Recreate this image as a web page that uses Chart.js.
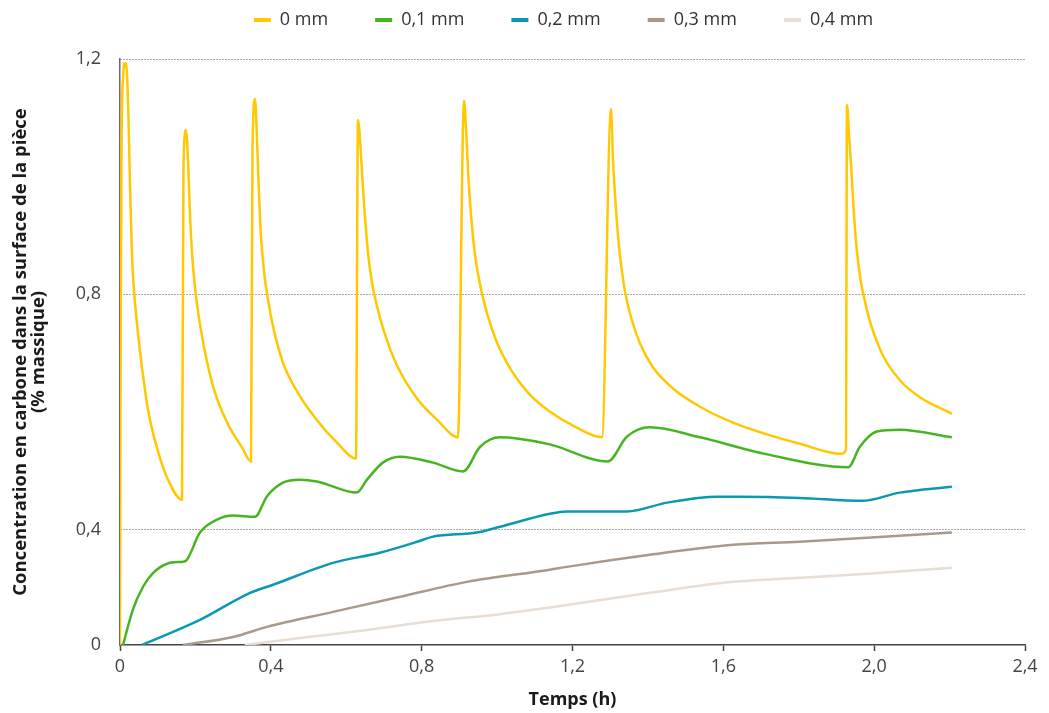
<!DOCTYPE html>
<html>
<head>
<meta charset="utf-8">
<script src="https://cdn.jsdelivr.net/npm/chart.js@4.4.1/dist/chart.umd.min.js"></script>
<style>
html,body{margin:0;padding:0;background:#fff;}
#wrap{width:1049px;height:713px;position:relative;}
</style>
</head>
<body>
<div id="wrap"><canvas id="c" width="1049" height="713"></canvas></div>
<script>
// ---------- DATA ----------
const seriesLabels = ['0 mm', '0,1 mm', '0,2 mm', '0,3 mm', '0,4 mm'];

// 0 mm
const time0 = [0, 0.0013, 0.004, 0.008, 0.0133, 0.0186, 0.0225, 0.0265, 0.0305, 0.0345, 0.0398, 0.0477, 0.0583, 0.0743, 0.1008, 0.1273, 0.1644,
  0.1684, 0.175, 0.1803, 0.1856, 0.1909, 0.1989, 0.2121, 0.2307, 0.2519, 0.2864, 0.3235, 0.3474,
  0.3514, 0.358, 0.3633, 0.3686, 0.3739, 0.3819, 0.3925, 0.4057, 0.4322, 0.4694, 0.5224, 0.5755, 0.6258,
  0.6311, 0.6364, 0.6417, 0.6497, 0.6576, 0.6683, 0.6815, 0.7001, 0.7346, 0.7876, 0.8406, 0.8963,
  0.9122, 0.9175, 0.9228, 0.9308, 0.9414, 0.9547, 0.9732, 0.9997, 1.0395, 1.0819, 1.1350, 1.2066, 1.2782,
  1.302, 1.3073, 1.3153, 1.3233, 1.3312, 1.3392, 1.3551, 1.3789, 1.4134, 1.4665, 1.5381, 1.6256, 1.7157, 1.8032, 1.9119, 1.9252,
  1.9279, 1.9332, 1.9385, 1.9464, 1.9544, 1.9624, 1.9730, 1.9889, 2.0233, 2.0684, 2.1214, 2.2063];
const conc0 = [0, 0.621, 1.047, 1.166, 1.193, 1.174, 1.098, 0.987, 0.894, 0.831, 0.786, 0.734, 0.676, 0.604, 0.533, 0.485, 0.451,
  1.02, 1.079, 1.030, 0.936, 0.871, 0.812, 0.749, 0.686, 0.633, 0.579, 0.540, 0.516,
  1.047, 1.132, 1.064, 0.970, 0.899, 0.839, 0.791, 0.746, 0.684, 0.635, 0.586, 0.548, 0.521,
  1.096, 1.064, 1.009, 0.931, 0.871, 0.820, 0.780, 0.737, 0.679, 0.623, 0.587, 0.557,
  1.129, 1.084, 1.013, 0.936, 0.868, 0.817, 0.768, 0.718, 0.669, 0.633, 0.603, 0.575, 0.557,
  1.115, 1.030, 0.945, 0.882, 0.839, 0.805, 0.761, 0.717, 0.676, 0.640, 0.609, 0.582, 0.562, 0.546, 0.529, 0.536,
  1.122, 1.072, 1.021, 0.936, 0.873, 0.831, 0.795, 0.754, 0.696, 0.654, 0.625, 0.597];

// 0,1 mm
const time1 = [0.008, 0.034, 0.061, 0.088, 0.125, 0.167, 0.175, 0.212, 0.257, 0.300, 0.358, 0.390, 0.432,
  0.477, 0.522, 0.628, 0.655, 0.697, 0.742, 0.830, 0.910, 0.955, 1.008, 1.053, 1.140, 1.294,
  1.344, 1.405, 1.538, 1.716, 1.931, 1.962, 2.007, 2.068, 2.206];
const conc1 = [0, 0.122, 0.202, 0.25, 0.282, 0.289, 0.292, 0.39, 0.417, 0.424, 0.422, 0.457, 0.48,
  0.485, 0.482, 0.463, 0.485, 0.514, 0.524, 0.514, 0.499, 0.541, 0.557, 0.555, 0.545, 0.516,
  0.558, 0.574, 0.557, 0.528, 0.506, 0.541, 0.567, 0.57, 0.557];

// 0,2 mm
const time2 = [0.058, 0.212, 0.345, 0.406, 0.565, 0.689, 0.788, 0.830, 0.947, 1.008, 1.140, 1.185,
  1.344, 1.451, 1.583, 1.644, 1.803, 1.968, 2.068, 2.206];
const conc2 = [0, 0.087, 0.181, 0.209, 0.285, 0.32, 0.358, 0.376, 0.39, 0.405, 0.427, 0.431,
  0.431, 0.446, 0.456, 0.456, 0.454, 0.449, 0.463, 0.473];

// 0,3 mm
const time3 = [0.167, 0.300, 0.390, 0.565, 0.742, 0.920, 1.140, 1.185, 1.405, 1.626, 1.803, 1.981, 2.206];
const conc3 = [0, 0.028, 0.063, 0.115, 0.167, 0.219, 0.261, 0.271, 0.313, 0.348, 0.358, 0.372, 0.39];

// 0,4 mm
const time4 = [0.331, 0.477, 0.655, 0.830, 1.008, 1.140, 1.405, 1.626, 1.803, 1.981, 2.206];
const conc4 = [0, 0.024, 0.052, 0.083, 0.107, 0.130, 0.181, 0.219, 0.233, 0.247, 0.268];

const xTicks = [0, 0.4, 0.8, 1.2, 1.6, 2.0, 2.4];
const xTickLabels = ['0', '0,4', '0,8', '1,2', '1,6', '2,0', '2,4'];
const yTicks = [0, 0.4, 0.8, 1.2];
const yTickLabels = ['0', '0,4', '0,8', '1,2'];

const yTitle = ['Concentration en carbone dans la surface de la pièce', '(% massique)'];
const xTitle = 'Temps (h)';

// ---------- STYLE ----------
const colors = ['#FFC800', '#47B522', '#0B98B2', '#A89A8B', '#E6DDD4'];
const FONT = "'Open Sans', 'DejaVu Sans', sans-serif";

// ---------- broken (piecewise linear) value axis ----------
const BREAK = 0.4, LOW_FACTOR = 0.49;
class BrokenLinearScale extends Chart.LinearScale {
  _fwd(v) { return v <= BREAK ? v * LOW_FACTOR : BREAK * LOW_FACTOR + (v - BREAK); }
  _inv(t) { const b = BREAK * LOW_FACTOR; return t <= b ? t / LOW_FACTOR : BREAK + (t - b); }
  getPixelForValue(value) {
    const a = this._fwd(this.min), b = this._fwd(this.max);
    return this.getPixelForDecimal((this._fwd(value) - a) / (b - a));
  }
  getValueForPixel(pixel) {
    const a = this._fwd(this.min), b = this._fwd(this.max);
    return this._inv(a + this.getDecimalForPixel(pixel) * (b - a));
  }
}
BrokenLinearScale.id = 'brokenLinear';
BrokenLinearScale.defaults = Chart.LinearScale.defaults;
Chart.register(BrokenLinearScale);

const legendSpacer = {
  id: 'legendSpacer',
  beforeUpdate(chart) {
    const lg = chart.legend;
    if (lg && !lg._spacerPatched) {
      const f = lg.fit;
      lg.fit = function () { f.call(this); this.height += 20; };
      lg._spacerPatched = true;
    }
  }
};

const times = [time0, time1, time2, time3, time4];
const concs = [conc0, conc1, conc2, conc3, conc4];
const LEGEND_GAP = '\u2003\u2003';

new Chart(document.getElementById('c'), {
  type: 'line',
  data: {
    datasets: seriesLabels.map((lab, i) => ({
      label: lab,
      data: times[i].map((t, j) => ({ x: t, y: concs[i][j] })),
      borderColor: colors[i],
      backgroundColor: colors[i],
      borderWidth: 2.5,
      pointRadius: 0,
      fill: false,
      cubicInterpolationMode: 'monotone'
    }))
  },
  plugins: [legendSpacer],
  options: {
    responsive: false,
    animation: false,
    devicePixelRatio: 1,
    layout: { padding: { top: 0, right: 24, bottom: 0, left: 0 } },
    plugins: {
      tooltip: { enabled: false },
      legend: {
        display: true,
        position: 'top',
        align: 'center',
        fullSize: false,
        labels: {
          boxWidth: 17,
          boxHeight: 4,
          padding: 11,
          color: '#333',
          font: { family: FONT, size: 18 },
          generateLabels(chart) {
            const n = chart.data.datasets.length;
            return chart.data.datasets.map((ds, i) => ({
              text: ds.label + (i === n - 1 ? '\u2003' : LEGEND_GAP),
              fillStyle: ds.borderColor,
              strokeStyle: ds.borderColor,
              lineWidth: 0,
              hidden: false,
              datasetIndex: i,
              fontColor: '#333'
            }));
          }
        }
      }
    },
    scales: {
      x: {
        type: 'linear',
        min: 0,
        max: 2.4,
        afterBuildTicks(scale) { scale.ticks = xTicks.map(v => ({ value: v })); },
        afterFit(scale) { scale.height = 68; },
        ticks: {
          autoSkip: false,
          maxRotation: 0,
          padding: 5,
          color: '#444',
          font: { family: FONT, size: 18 },
          callback: (v, i) => xTickLabels[i]
        },
        grid: {
          drawOnChartArea: false,
          drawTicks: true,
          tickLength: 6,
          tickColor: '#444',
          tickWidth: 1.5
        },
        border: { display: true, color: '#444', width: 1.5 },
        title: {
          display: true,
          text: xTitle,
          color: '#1a1a1a',
          font: { family: FONT, size: 18, weight: 'bold', lineHeight: 1.0 },
          padding: { top: 0, bottom: 4 }
        }
      },
      y: {
        type: 'brokenLinear',
        min: 0,
        max: 1.2,
        afterBuildTicks(scale) { scale.ticks = yTicks.map(v => ({ value: v })); },
        afterFit(scale) { scale.width = 120; },
        ticks: {
          padding: 19,
          color: '#444',
          font: { family: FONT, size: 18 },
          callback: (v, i) => yTickLabels[i]
        },
        grid: {
          drawTicks: false,
          lineWidth: 1,
          color: (ctx) => (ctx.tick && ctx.tick.value === 0) ? 'rgba(0,0,0,0)' : '#555'
        },
        border: { display: true, color: '#6a6a6a', width: 1.5, dash: [1, 2] },
        title: {
          display: true,
          text: yTitle,
          color: '#1a1a1a',
          font: { family: FONT, size: 18.5, weight: 'bold', lineHeight: 1.0 },
          padding: { top: 11, bottom: 0 }
        }
      }
    }
  }
});
</script>
</body>
</html>
